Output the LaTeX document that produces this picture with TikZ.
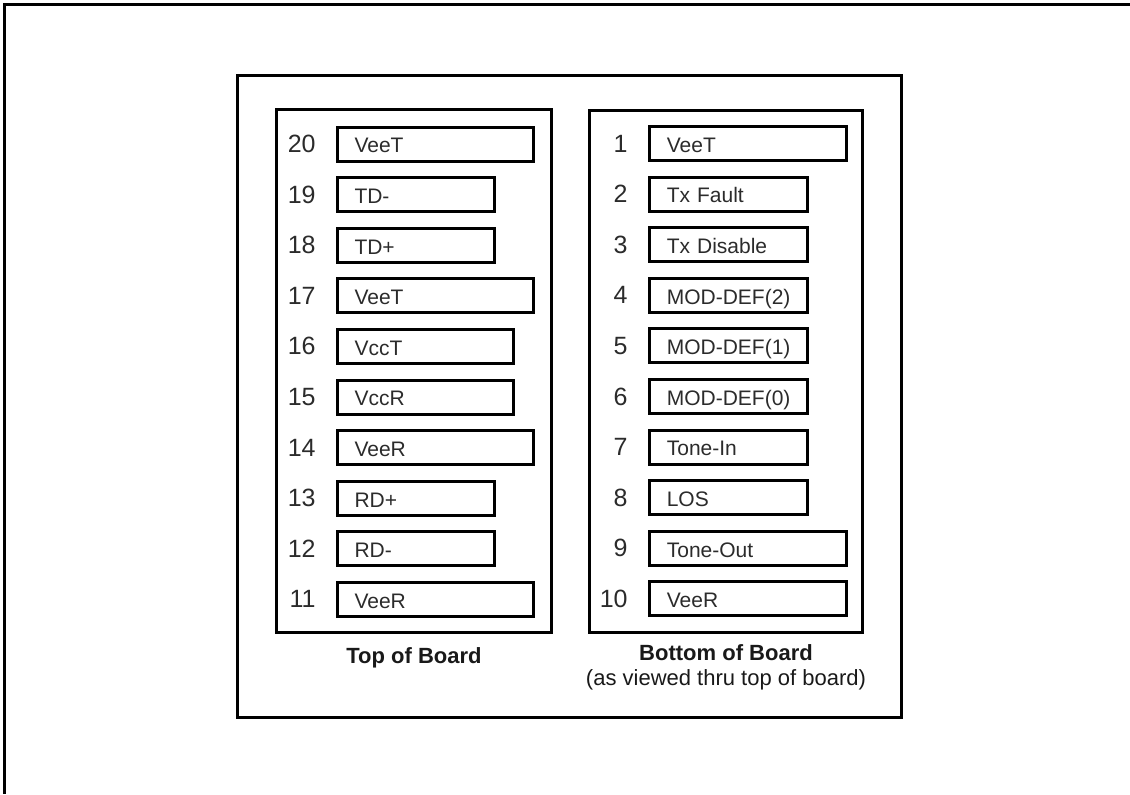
\documentclass[tikz,border=0pt]{standalone}
\usepackage{fontspec}
\setmainfont{Liberation Sans}
\usepackage{xcolor}
\usepackage{tikz}
\definecolor{ink}{HTML}{2B2B2B}

\begin{document}
\begin{tikzpicture}[
        x=0.5pt, y=-0.5pt,
        frame/.style={
            draw,
            line width=1.5pt
        },
        pinbox/.style={
            draw,
            line width=1.5pt,
            anchor=west,
            minimum height=17pt,
            inner xsep=8.5pt,
            inner ysep=0pt,
            text height=8.8pt,
            text depth=0pt,
            align=left,
            text=ink,
            font=\fontsize{10.5}{12}\selectfont
        },
        pinnum/.style={
            anchor=base east,
            inner sep=0pt,
            text=ink,
            font=\fontsize{12.5}{14}\selectfont
        },
        caption/.style={
            align=center,
            text=black!90,
            font=\fontsize{11}{12.5}\selectfont
        }
    ]

    \useasboundingbox (0,0) rectangle (1130,794);

    % outer frame (only top and left edges show)
    \draw[frame] (1130,4.7) -- (4.7,4.7) -- (4.7,794);
    % connector outline
    \draw[frame] (237.7,75.5) rectangle (901.7,717.3);
    % the two board sides
    \draw[frame] (276.7,109.3) rectangle (551,632.7);
    \draw[frame] (589.3,110) rectangle (862.7,632);

    % top of board: pins 20 down to 11
    \foreach \n/\name/\w [count=\i from 0] in {
        20/VeeT/81, 19/TD-/61.5, 18/TD+/61.5, 17/VeeT/81, 16/VccT/71,
        15/VccR/71, 14/VeeR/81, 13/RD+/61.5, 12/RD-/61.5, 11/VeeR/81}
    {
        \node[pinbox, text width=\w pt] (t\n) at (336,{144+50.6*\i}) {\mbox{\name}};
        \node[pinnum] (tn\n) at (316,{152.5+50.6*\i}) {\n};
    }

    % bottom of board: pins 1 to 10
    \foreach \n/\name/\w [count=\i from 0] in {
        1/VeeT/81.5, 2/Tx Fault/62, 3/Tx Disable/62, 4/MOD-DEF(2)/62,
        5/MOD-DEF(1)/62, 6/MOD-DEF(0)/62, 7/Tone-In/62, 8/LOS/62,
        9/Tone-Out/81.5, 10/VeeR/81.5}
    {
        \node[pinbox, text width=\w pt] (b\n) at (648.3,{143.5+50.6*\i}) {\mbox{\name}};
        \node[pinnum] (bn\n) at (628,{152+50.6*\i}) {\n};
    }

    \node[caption] (toplabel) at (414,658) {\textbf{Top of Board}};
    \node[caption] (botlabel) at (726,667) {\textbf{Bottom of Board}\\(as viewed thru top of board)};

\end{tikzpicture}
\end{document}
